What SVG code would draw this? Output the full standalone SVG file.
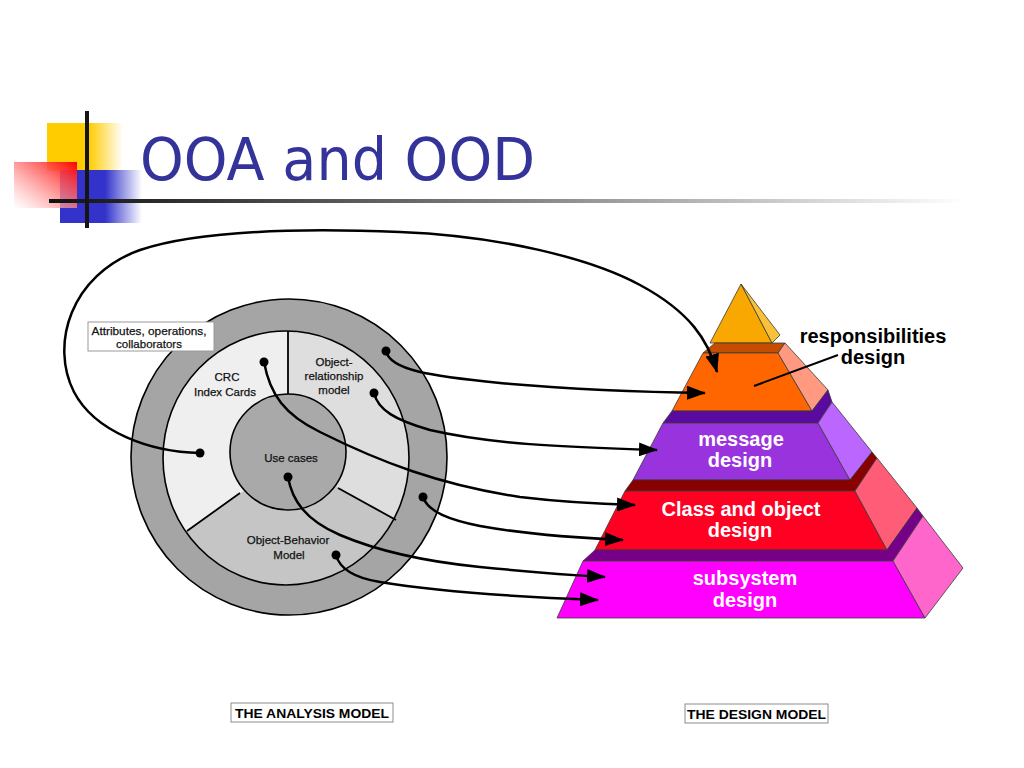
<svg xmlns="http://www.w3.org/2000/svg" width="1024" height="768" viewBox="0 0 1024 768">
<defs>
  <linearGradient id="gYellow" x1="0" y1="0" x2="1" y2="0">
    <stop offset="0" stop-color="#ffcc00"/>
    <stop offset="0.55" stop-color="#ffcc00"/>
    <stop offset="1" stop-color="#ffcc00" stop-opacity="0"/>
  </linearGradient>
  <linearGradient id="gBlue" x1="0" y1="0" x2="1" y2="0">
    <stop offset="0" stop-color="#3333cc"/>
    <stop offset="0.55" stop-color="#3333cc"/>
    <stop offset="1" stop-color="#3333cc" stop-opacity="0"/>
  </linearGradient>
  <linearGradient id="gRed" x1="1" y1="0" x2="0" y2="1">
    <stop offset="0" stop-color="#ff0000"/>
    <stop offset="1" stop-color="#ffffff" stop-opacity="0.6"/>
  </linearGradient>
  <linearGradient id="gLine" x1="0" y1="0" x2="1" y2="0">
    <stop offset="0" stop-color="#111111"/>
    <stop offset="0.5" stop-color="#808080"/>
    <stop offset="1" stop-color="#ffffff"/>
  </linearGradient>
  <clipPath id="midClip">
    <ellipse cx="286" cy="458" rx="123" ry="127"/>
  </clipPath>
  <marker id="arrow" markerUnits="userSpaceOnUse" markerWidth="19" markerHeight="14" viewBox="0 0 19 14" refX="18" refY="7" orient="auto">
    <path d="M0,0 L19,7 L0,14 Z" fill="#000"/>
  </marker>
</defs>
<style>
  .edge { fill: none; stroke: #000; stroke-width: 2.5; marker-end: url(#arrow); }
  .dot { fill: #000; }
  .ring { stroke: #000; stroke-width: 1.6; }
  .div { stroke: #000; stroke-width: 1.8; }
  .small { font-family: "Liberation Sans", Arial, sans-serif; font-size: 11.5px; fill: #111; stroke: #111; stroke-width: 0.25; text-anchor: middle; }
  .tier { font-family: "Liberation Sans", Arial, sans-serif; font-size: 20px; font-weight: bold; fill: #ffffff; text-anchor: middle; }
  .face { stroke: #3a3a3a; stroke-width: 0.8; stroke-linejoin: round; }
  .cap { font-family: "Liberation Sans", Arial, sans-serif; font-size: 13.7px; font-weight: bold; fill: #000; text-anchor: middle; }
  .capbox { fill: #ffffff; stroke: #8c8c8c; stroke-width: 1; }
</style>
<rect width="1024" height="768" fill="#ffffff"/>

<g id="decoration">
  <rect x="47" y="123" width="76" height="48" fill="url(#gYellow)"/>
  <rect x="60" y="170" width="82" height="53" fill="url(#gBlue)"/>
  <rect x="14" y="162" width="63" height="46" fill="url(#gRed)"/>
  <rect x="49" y="199" width="916" height="4" fill="url(#gLine)"/>
  <rect x="85" y="111" width="4" height="117" fill="#151515"/>
</g>

<g id="title">
  <text x="140" y="180" font-family="'DejaVu Sans', Verdana, sans-serif" font-size="59" fill="#333399" textLength="395" lengthAdjust="spacingAndGlyphs">OOA and OOD</text>
</g>

<g id="analysis-model">
  <g id="outer-ring">
    <circle cx="289" cy="457" r="158" fill="#a5a5a5" class="ring"/>
  </g>
  <g id="middle-ring" clip-path="url(#midClip)">
    <rect x="100" y="300" width="400" height="320" fill="#efefef"/>
    <polygon points="288,461 288,200 600,200 600,630" fill="#dedede"/>
    <polygon points="288,460 600,630 600,800 0,800 0,661" fill="#c5c5c5"/>
  </g>
  <ellipse cx="286" cy="458" rx="123" ry="127" fill="none" class="ring"/>
  <g id="dividers">
    <line x1="288" y1="331" x2="288" y2="394" class="div"/>
    <line x1="240" y1="493" x2="187" y2="531" class="div"/>
    <line x1="338" y1="488" x2="396" y2="520" class="div"/>
  </g>
  <g id="use-cases">
    <circle cx="288" cy="452" r="58" fill="#a9a9a9" class="ring"/>
    <text x="291" y="462" class="small">Use cases</text>
  </g>
  <g id="crc">
    <text x="227" y="381" class="small">CRC</text>
    <text x="225" y="396" class="small">Index Cards</text>
  </g>
  <g id="object-relationship">
    <text x="334" y="366" class="small">Object-</text>
    <text x="334" y="380" class="small">relationship</text>
    <text x="334" y="394" class="small">model</text>
  </g>
  <g id="object-behavior">
    <text x="288" y="544" class="small">Object-Behavior</text>
    <text x="289" y="559" class="small">Model</text>
  </g>
  <g id="attributes-box">
    <rect x="88" y="322" width="126" height="29" fill="#ffffff" stroke="#9a9a9a" stroke-width="1"/>
    <text x="149" y="335" class="small" font-size="11px" textLength="115" lengthAdjust="spacingAndGlyphs">Attributes, operations,</text>
    <text x="149" y="348" class="small" font-size="11px">collaborators</text>
  </g>
</g>

<g id="design-model">
  <g id="pyr-apex">
    <polygon class="face" points="741,284 710,343 772,343" fill="#f8a800"/>
    <polygon class="face" points="741,284 772,343 780,335" fill="#f9c03a"/>
  </g>
  <g id="pyr-responsibilities">
    <polygon class="face" points="715,343 785,343 778,353 703,353" fill="#c44d00"/>
    <polygon class="face" points="703,353 778,353 812,411 672,411" fill="#ff6600"/>
    <polygon class="face" points="778,353 785,343 828,390 812,411" fill="#ff9980"/>
  </g>
  <g id="pyr-message">
    <polygon class="face" points="672,411 812,411 828,390 832,402 818,423 663,423" fill="#5a0a9e"/>
    <polygon class="face" points="663,423 818,423 850,480 633,480" fill="#9933dd"/>
    <polygon class="face" points="818,423 832,402 872,452 850,480" fill="#bb66ff"/>
    <text x="741" y="446" class="tier">message</text>
    <text x="740" y="467" class="tier">design</text>
  </g>
  <g id="pyr-class">
    <polygon class="face" points="633,480 850,480 872,452 877,458 855,491 625,491" fill="#880000"/>
    <polygon class="face" points="625,491 855,491 887,550 595,550" fill="#ff0022"/>
    <polygon class="face" points="855,491 877,458 917,508 887,550" fill="#ff5c77"/>
    <text x="741" y="516" class="tier">Class and object</text>
    <text x="740" y="537" class="tier">design</text>
  </g>
  <g id="pyr-subsystem">
    <polygon class="face" points="595,550 887,550 917,508 923,516 893,561 583,561" fill="#770088"/>
    <polygon class="face" points="583,561 893,561 925,618 557,618" fill="#ff00ff"/>
    <polygon class="face" points="893,561 923,516 963,568 925,618" fill="#ff66cc"/>
    <text x="745" y="585" class="tier">subsystem</text>
    <text x="745" y="607" class="tier">design</text>
  </g>
  <g id="responsibilities-label">
    <text x="873" y="343" class="tier" style="fill:#000">responsibilities</text>
    <text x="873" y="364" class="tier" style="fill:#000">design</text>
    <line x1="754" y1="386" x2="838" y2="355" stroke="#000" stroke-width="2"/>
  </g>
</g>

<g id="connectors">
  <path class="edge" d="M200,453 C150,452 95,432 74,392 C50,345 70,275 140,250 C200,230 300,228 400,232 C500,236 590,258 640,285 C690,312 708,340 717,372"/>
  <path class="edge" d="M386,351 C390,370 430,376 500,383 C580,390 640,392 705,393"/>
  <path class="edge" d="M374,393 C378,410 395,420 430,430 C490,444 560,447 657,450"/>
  <path class="edge" d="M264,362 C270,395 285,415 320,432 C380,462 440,485 520,497 C570,503 600,504 635,505"/>
  <path class="edge" d="M423,497 C428,512 450,520 480,526 C530,535 580,538 623,540"/>
  <path class="edge" d="M288,477 C292,500 305,520 340,535 C380,552 430,562 480,567 C530,572 570,575 605,577"/>
  <path class="edge" d="M336,555 C340,570 355,578 380,582 C440,592 520,597 598,600"/>
  <circle class="dot" cx="200" cy="453" r="4.5"/>
  <circle class="dot" cx="386" cy="351" r="4.5"/>
  <circle class="dot" cx="374" cy="393" r="4.5"/>
  <circle class="dot" cx="264" cy="362" r="4.5"/>
  <circle class="dot" cx="423" cy="497" r="4.5"/>
  <circle class="dot" cx="288" cy="477" r="4.5"/>
  <circle class="dot" cx="336" cy="555" r="4.5"/>
</g>

<g id="captions">
  <g id="analysis-caption">
    <rect x="231" y="703" width="162" height="19" class="capbox"/>
    <text x="312" y="718" class="cap" textLength="154" lengthAdjust="spacingAndGlyphs">THE ANALYSIS MODEL</text>
  </g>
  <g id="design-caption">
    <rect x="685" y="704" width="143" height="19" class="capbox"/>
    <text x="756.5" y="719" class="cap" textLength="139" lengthAdjust="spacingAndGlyphs">THE DESIGN MODEL</text>
  </g>
</g>
</svg>
